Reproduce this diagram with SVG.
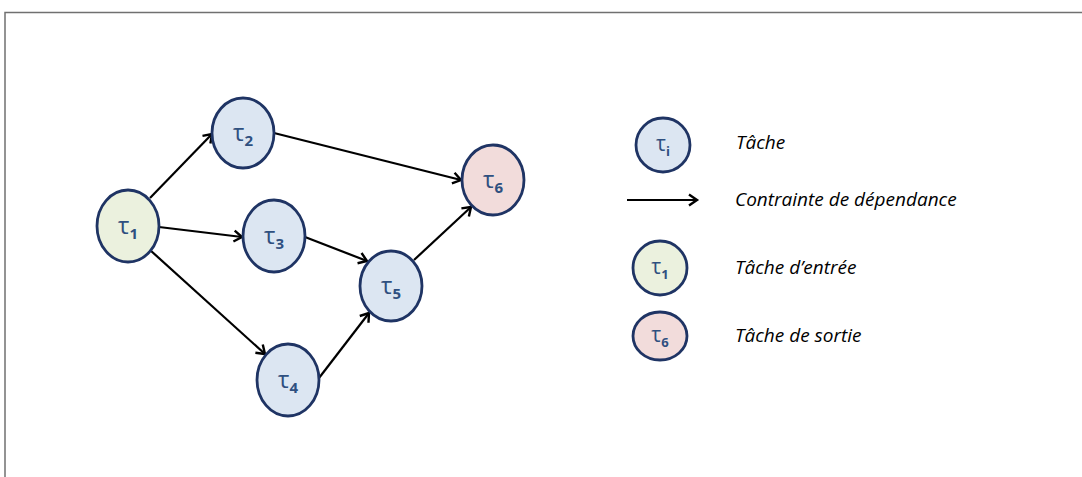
<svg xmlns="http://www.w3.org/2000/svg" width="1082" height="477" viewBox="0 0 1082 477">
<style>
.node{stroke:#1f3464;stroke-width:2.8}
.blue{fill:#dce6f2}
.green{fill:#ebf1de}
.pink{fill:#f2dcdb}
.lbl{font-family:"Open Sans","Noto Sans",sans-serif;fill:#2f5080;font-size:24px;text-anchor:middle}
.sub{font-size:15px;font-weight:bold}
.leg{font-family:"Open Sans","Noto Sans",sans-serif;font-style:italic;font-size:19px;fill:#000}
.edge{stroke:#000;stroke-width:2.2;fill:none;marker-end:url(#arr)}
</style>
<defs>
<marker id="arr" markerUnits="userSpaceOnUse" markerWidth="14" markerHeight="14" refX="11" refY="7" orient="auto" viewBox="0 0 14 14">
<path d="M3,1.5 L11,7 L3,12.5" fill="none" stroke="#000" stroke-width="2.4"/>
</marker>
</defs>
<rect width="1082" height="477" fill="#fff"/>
<path d="M5,477 V12.5 H1082" fill="none" stroke="#707070" stroke-width="1.5"/>
<g id="connectors">
<line class="edge" x1="150" y1="198" x2="212" y2="134"/>
<line class="edge" x1="159" y1="227" x2="242" y2="237"/>
<line class="edge" x1="150" y1="250" x2="265" y2="354"/>
<line class="edge" x1="274" y1="133" x2="461" y2="180"/>
<line class="edge" x1="305" y1="237" x2="367" y2="261"/>
<line class="edge" x1="319" y1="378" x2="369" y2="313"/>
<line class="edge" x1="414" y1="260" x2="471" y2="207"/>
</g>
<g id="t1"><ellipse class="node green" cx="128" cy="226" rx="31" ry="36"/><text class="lbl" x="128" y="234">τ<tspan class="sub" dy="5">1</tspan></text></g>
<g id="t2"><ellipse class="node blue" cx="243" cy="133" rx="31" ry="35"/><text class="lbl" x="243" y="141">τ<tspan class="sub" dy="5">2</tspan></text></g>
<g id="t3"><ellipse class="node blue" cx="274" cy="236" rx="31" ry="36"/><text class="lbl" x="274" y="244">τ<tspan class="sub" dy="5">3</tspan></text></g>
<g id="t4"><ellipse class="node blue" cx="288" cy="380" rx="31" ry="36"/><text class="lbl" x="288" y="388">τ<tspan class="sub" dy="5">4</tspan></text></g>
<g id="t5"><ellipse class="node blue" cx="391" cy="286" rx="31" ry="35"/><text class="lbl" x="391" y="294">τ<tspan class="sub" dy="5">5</tspan></text></g>
<g id="t6"><ellipse class="node pink" cx="493" cy="180" rx="31" ry="35"/><text class="lbl" x="493" y="188">τ<tspan class="sub" dy="5">6</tspan></text></g>
<g id="legend">
<g id="leg-task"><ellipse class="node blue" cx="663" cy="145" rx="27" ry="27"/><text class="lbl" x="663" y="151" style="font-size:21px">τ<tspan class="sub" dy="5" style="font-size:13px">i</tspan></text><text class="leg" x="736" y="149">Tâche</text></g>
<g id="leg-edge"><line class="edge" x1="627" y1="200" x2="697" y2="200"/><text class="leg" x="735" y="206">Contrainte de dépendance</text></g>
<g id="leg-entry"><ellipse class="node green" cx="660" cy="268" rx="27" ry="27"/><text class="lbl" x="660" y="274" style="font-size:21px">τ<tspan class="sub" dy="5" style="font-size:13px">1</tspan></text><text class="leg" x="735" y="274">Tâche d’entrée</text></g>
<g id="leg-exit"><ellipse class="node pink" cx="660" cy="336" rx="27" ry="24"/><text class="lbl" x="660" y="342" style="font-size:21px">τ<tspan class="sub" dy="5" style="font-size:13px">6</tspan></text><text class="leg" x="735" y="342">Tâche de sortie</text></g>
</g>
</svg>
